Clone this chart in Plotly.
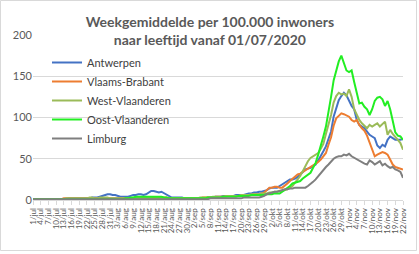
import datetime as dt
import plotly.graph_objects as go

# ---- data -------------------------------------------------------------
start_date = dt.date(2020, 7, 1)
n_days = 145
month_nl = {7: "jul", 8: "aug", 9: "sep", 10: "okt", 11: "nov"}
dates = [start_date + dt.timedelta(days=k) for k in range(n_days)]
categories = [f"{d.day}/{month_nl[d.month]}" for d in dates]
tick_labels = categories[::3]

antwerpen = [
    1, 1, 1, 1, 1, 1, 1, 1, 1, 1,
    1, 1, 1, 1, 2, 2, 2, 2, 2, 2,
    2, 2, 2, 3, 3, 3, 4, 5, 6, 7,
    7, 6, 6, 5, 4, 4, 4, 4, 5, 6,
    6, 7, 7, 6, 7, 9, 11, 11, 10, 9,
    10, 8, 6, 4, 3, 3, 3, 3, 3, 2,
    2, 2, 2, 1, 1, 1, 2, 2, 3, 3,
    3, 4, 4, 4, 5, 5, 5, 5, 5, 6,
    6, 6, 6, 7, 8, 8, 9, 9, 10, 10,
    11, 12, 14, 15, 15, 15, 17, 19, 21, 23,
    25, 25, 26, 28, 31, 34, 37, 38, 39, 41,
    43, 48, 53, 59, 65, 73, 83, 101, 112, 121,
    126, 130, 127, 121, 114, 110, 97, 91, 89, 87,
    83, 79, 77, 75, 66, 63, 67, 65, 73, 77,
    75, 73, 73, 73, 74,
]
vlaams_brabant = [
    1, 1, 1, 1, 1, 1, 1, 1, 1, 1,
    1, 1, 2, 2, 2, 2, 2, 2, 2, 2,
    2, 2, 2, 2, 2, 2, 2, 2, 2, 2,
    2, 2, 2, 2, 2, 2, 2, 2, 2, 2,
    2, 2, 2, 2, 2, 2, 2, 3, 3, 3,
    3, 3, 3, 2, 2, 2, 2, 2, 2, 2,
    2, 2, 2, 2, 2, 2, 3, 3, 3, 3,
    3, 4, 4, 4, 4, 4, 5, 5, 5, 5,
    5, 5, 6, 6, 6, 6, 7, 7, 7, 8,
    9, 12, 15, 15, 16, 16, 15, 15, 17, 20,
    23, 26, 29, 31, 32, 34, 35, 37, 39, 41,
    43, 46, 49, 53, 57, 67, 76, 90, 99, 102,
    105, 104, 102, 101, 97, 95, 97, 91, 87, 84,
    78, 70, 60, 53, 55, 57, 58, 57, 55, 49,
    43, 40, 39, 38, 37,
]
west_vlaanderen = [
    1, 1, 1, 1, 1, 1, 1, 1, 1, 1,
    1, 1, 1, 2, 2, 2, 2, 2, 2, 2,
    2, 2, 3, 3, 2, 2, 3, 3, 3, 3,
    2, 2, 2, 2, 2, 2, 2, 2, 2, 2,
    2, 2, 2, 2, 2, 2, 2, 2, 2, 2,
    2, 2, 2, 2, 2, 2, 2, 2, 2, 2,
    2, 2, 2, 2, 2, 3, 3, 3, 3, 3,
    4, 4, 4, 4, 4, 5, 5, 5, 5, 5,
    5, 6, 6, 6, 6, 7, 7, 7, 7, 8,
    8, 8, 9, 9, 10, 10, 11, 11, 12, 13,
    15, 17, 21, 25, 29, 35, 42, 47, 51, 53,
    55, 57, 62, 68, 80, 90, 103, 118, 126, 130,
    128, 129, 126, 134, 125, 110, 103, 97, 93, 90,
    87, 91, 89, 91, 93, 89, 92, 95, 79, 85,
    80, 77, 73, 69, 61,
]
oost_vlaanderen = [
    1, 1, 1, 1, 1, 1, 1, 1, 1, 1,
    1, 1, 1, 1, 1, 1, 1, 1, 1, 1,
    1, 1, 1, 1, 1, 1, 1, 1, 1, 1,
    1, 1, 1, 1, 1, 1, 2, 2, 3, 3,
    4, 4, 4, 4, 4, 4, 4, 4, 4, 4,
    4, 3, 3, 2, 2, 2, 2, 2, 2, 2,
    2, 2, 2, 2, 2, 2, 2, 2, 3, 3,
    3, 3, 3, 3, 4, 4, 4, 4, 4, 4,
    5, 5, 5, 5, 5, 6, 6, 6, 6, 6,
    6, 7, 7, 7, 8, 8, 8, 10, 12, 14,
    17, 20, 21, 22, 23, 26, 28, 30, 33, 39,
    45, 55, 65, 77, 89, 105, 125, 145, 158, 168,
    175, 167, 157, 155, 157, 143, 130, 117, 118, 113,
    110, 103, 110, 120, 124, 125, 122, 114, 120, 110,
    96, 82, 78, 77, 73,
]
limburg = [
    1, 1, 1, 1, 1, 1, 1, 1, 1, 1,
    1, 1, 1, 1, 1, 1, 1, 1, 1, 1,
    1, 1, 1, 1, 1, 1, 1, 1, 1, 1,
    1, 1, 1, 1, 1, 1, 1, 1, 1, 1,
    1, 1, 1, 1, 1, 1, 1, 1, 1, 1,
    1, 1, 1, 1, 1, 1, 1, 1, 1, 1,
    1, 1, 1, 1, 1, 1, 1, 1, 1, 2,
    2, 2, 2, 2, 2, 2, 2, 2, 2, 2,
    2, 2, 3, 3, 3, 3, 3, 3, 3, 4,
    5, 7, 8, 9, 10, 10, 11, 12, 13, 13,
    14, 14, 15, 15, 15, 15, 15, 17, 19, 22,
    25, 29, 33, 37, 40, 43, 47, 50, 52, 53,
    53, 55, 54, 56, 53, 51, 49, 47, 45, 44,
    43, 48, 46, 43, 45, 47, 42, 44, 41, 39,
    40, 37, 36, 34, 27,
]

series_names = ["Antwerpen", "Vlaams-Brabant", "West-Vlaanderen",
                "Oost-Vlaanderen", "Limburg"]
series_values = [antwerpen, vlaams_brabant, west_vlaanderen,
                 oost_vlaanderen, limburg]
series_colors = ["#4472C4", "#ED7D31", "#9BBB59", "#22EE22", "#7F7F7F"]

# ---- figure -----------------------------------------------------------
W, H = 419, 254
ML, MR, MT, MB = 33, 16, 35, 54
PW, PH = W - ML - MR, H - MT - MB

fig = go.Figure()
for name, vals, col in zip(series_names, series_values, series_colors):
    fig.add_trace(go.Scatter(
        x=categories, y=vals, mode="lines", name=name,
        line=dict(color=col, width=2),
    ))

fig.update_layout(
    width=W, height=H,
    margin=dict(l=ML, r=MR, t=MT, b=MB, pad=0),
    paper_bgcolor="white", plot_bgcolor="white",
    font=dict(family="Lato, 'Liberation Sans', sans-serif", color="#595959"),
    title=dict(
        text="Weekgemiddelde per 100.000 inwoners<br>naar leeftijd vanaf 01/07/2020",
        x=0.501, xanchor="center", xref="container",
        y=1 - 27 / H, yanchor="top", yref="container",
        font=dict(size=14, color="#595959", family="Lato, sans-serif", weight="bold"),
    ),
    legend=dict(
        x=(47 - ML) / PW, xanchor="left",
        y=(H - MB - 48) / PH, yanchor="top",
        bgcolor="rgba(0,0,0,0)", borderwidth=0,
        font=dict(size=11, color="#404040"),
        tracegroupgap=0, itemwidth=30,
    ),
    showlegend=True,
)

fig.update_xaxes(
    type="category",
    tickmode="array", tickvals=tick_labels, ticktext=tick_labels,
    tickangle=-90, tickfont=dict(size=8, color="#595959"),
    ticks="outside", ticklen=4, tickcolor="#d9d9d9",
    showline=True, linecolor="#d9d9d9", linewidth=1,
    showgrid=False, zeroline=False,
    range=[0, n_days - 1],
)
fig.update_yaxes(
    range=[0, 200], dtick=50, tick0=0,
    tickfont=dict(size=11, color="#595959"),
    showgrid=True, gridcolor="#d9d9d9", gridwidth=1,
    showline=False, zeroline=False, ticks="",
)

# chart-area border
fig.add_shape(
    type="rect", xref="paper", yref="paper",
    x0=(0.5 - ML) / PW, x1=(416.5 - ML) / PW,
    y0=(H - MB - 250.5) / PH, y1=(H - MB - 0.5) / PH,
    line=dict(color="#d9d9d9", width=1), fillcolor="rgba(0,0,0,0)",
    layer="below",
)

fig.write_html("out.html")
